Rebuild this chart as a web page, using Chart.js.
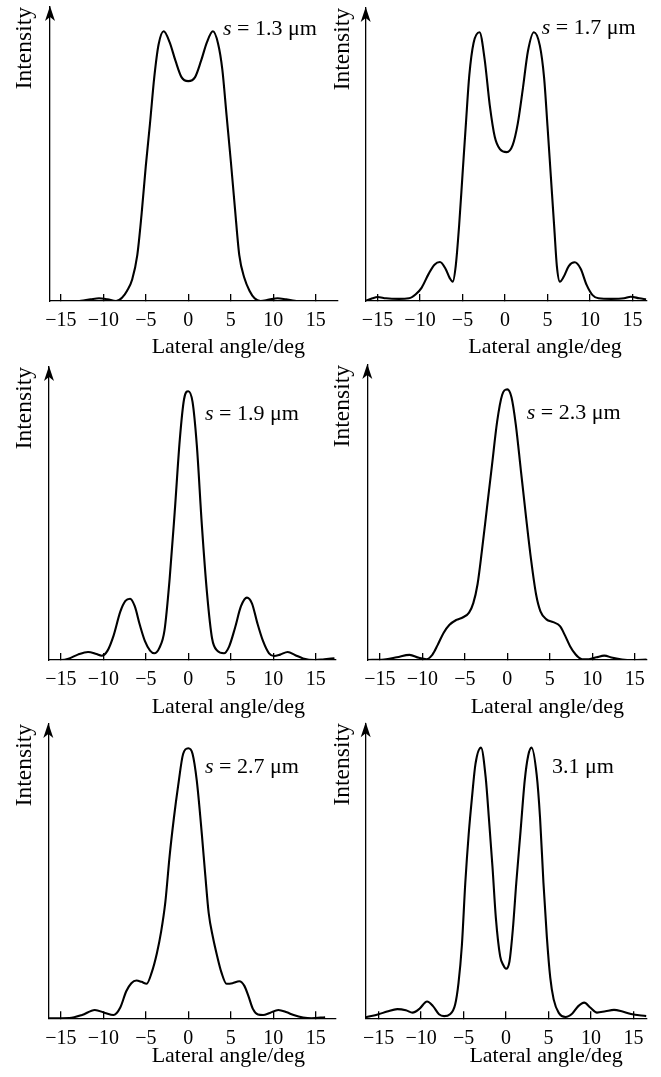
<!DOCTYPE html>
<html><head><meta charset="utf-8">
<script src="https://cdn.jsdelivr.net/npm/chart.js"></script>
<style>
html,body{margin:0;padding:0;background:#fff;}
body{width:661px;height:1077px;position:relative;overflow:hidden;}
canvas{position:absolute;}
</style></head><body>
<script>
// ---------- data ----------
const xTickValues = [-15, -10, -5, 0, 5, 10, 15];
const xAxisTitle = 'Lateral angle/deg';
const yAxisTitle = 'Intensity';
const panelLabels = ['s = 1.3 μm', 's = 1.7 μm', 's = 1.9 μm', 's = 2.3 μm', 's = 2.7 μm', '3.1 μm'];

const angle13 = [-12.8,-11.5,-10.5,-9.5,-8.5,-7.8,-7.2,-6.6,-6.0,-5.5,-5.0,-4.5,-4.0,-3.5,-2.9,-2.2,-1.5,-0.8,0,0.8,1.5,2.2,2.9,3.5,4.0,4.5,5.0,5.5,6.0,6.6,7.2,7.8,8.5,9.5,10.5,11.5,12.7];
const int13   = [0,0.006,0.01,0.006,0,0.012,0.038,0.08,0.17,0.32,0.5,0.66,0.83,0.95,1.0,0.96,0.89,0.83,0.815,0.83,0.89,0.96,1.0,0.955,0.86,0.69,0.52,0.34,0.17,0.085,0.038,0.01,0,0.005,0.01,0.006,0];

const angle17 = [-16.4,-15.6,-15.0,-14.0,-12.5,-11.3,-10.5,-9.8,-9.0,-8.3,-7.65,-7.0,-6.5,-6.15,-5.8,-5.4,-5.0,-4.6,-4.2,-3.7,-3.0,-2.4,-1.8,-1.2,-0.6,0.2,0.9,1.5,2.1,2.7,3.4,4.1,4.6,5.0,5.4,5.8,6.1,6.45,6.9,7.5,8.2,8.9,9.6,10.3,11.0,12.5,14.0,14.8,15.8,16.6];
const int17   = [0,0.01,0.015,0.01,0.008,0.01,0.025,0.05,0.1,0.135,0.145,0.12,0.085,0.072,0.13,0.28,0.47,0.66,0.84,0.96,1.0,0.9,0.73,0.61,0.565,0.554,0.58,0.66,0.79,0.93,1.0,0.95,0.83,0.65,0.46,0.27,0.13,0.072,0.09,0.13,0.144,0.12,0.06,0.022,0.01,0.008,0.01,0.016,0.01,0.006];

const angle19 = [-16.4,-15.0,-14.0,-13.0,-11.8,-10.8,-10.2,-9.5,-8.8,-8.0,-7.4,-6.85,-6.3,-5.7,-5.1,-4.5,-4.0,-3.4,-2.8,-2.2,-1.6,-1.0,-0.5,0,0.5,1.0,1.6,2.2,2.8,3.4,4.2,4.8,5.5,6.2,6.9,7.5,8.1,8.8,9.5,10.1,10.8,11.7,12.6,13.5,14.9,16.0,17.2];
const int19   = [0,0,0.006,0.02,0.03,0.022,0.016,0.035,0.09,0.18,0.22,0.228,0.2,0.13,0.07,0.035,0.025,0.045,0.11,0.3,0.55,0.82,0.97,1.0,0.96,0.8,0.5,0.25,0.08,0.035,0.025,0.05,0.12,0.2,0.232,0.21,0.14,0.07,0.025,0.015,0.02,0.03,0.018,0.006,0,0.003,0.006];

const angle23 = [-16.5,-14.5,-13.0,-11.5,-10.4,-9.5,-8.8,-8.2,-7.5,-6.8,-6.0,-5.2,-4.5,-4.0,-3.5,-3.0,-2.4,-1.8,-1.2,-0.6,0,0.5,1.0,1.6,2.2,2.8,3.4,3.9,4.6,5.4,6.2,6.8,7.4,8.0,8.8,9.6,10.5,11.4,12.4,13.5,14.8,16.4];
const int23   = [0,0.002,0.01,0.019,0.008,0.003,0.02,0.055,0.1,0.13,0.148,0.158,0.175,0.21,0.28,0.4,0.56,0.72,0.88,0.98,1.0,0.97,0.87,0.7,0.53,0.37,0.24,0.18,0.15,0.14,0.125,0.09,0.05,0.022,0.003,0.003,0.01,0.016,0.008,0.002,0,0.002];

const angle27 = [-16.5,-14.0,-12.5,-11.0,-9.8,-8.8,-8.0,-7.3,-6.7,-6.1,-5.5,-4.9,-4.3,-3.7,-3.2,-2.7,-2.2,-1.7,-1.2,-0.6,0,0.5,1.0,1.6,2.0,2.4,2.9,3.4,3.9,4.5,5.2,6.0,6.6,7.1,7.6,8.2,8.8,9.6,10.6,11.6,12.4,13.5,14.5,16.1];
const int27   = [0,0.001,0.012,0.031,0.02,0.012,0.04,0.1,0.13,0.14,0.135,0.128,0.17,0.24,0.32,0.43,0.6,0.74,0.86,0.98,1.0,0.98,0.88,0.68,0.53,0.39,0.3,0.23,0.17,0.128,0.13,0.137,0.12,0.08,0.035,0.014,0.012,0.02,0.031,0.022,0.012,0.003,0,0.004];

const angle31 = [-16.5,-15.0,-14.0,-12.8,-11.8,-11.0,-10.2,-9.3,-8.6,-7.9,-7.3,-6.6,-6.0,-5.6,-5.2,-4.8,-4.4,-4.0,-3.6,-2.95,-2.4,-2.0,-1.6,-1.2,-0.7,-0.3,0,0.4,0.8,1.2,1.7,2.2,2.6,3.0,3.6,4.0,4.4,4.8,5.2,5.6,6.2,7.0,7.8,8.5,9.2,9.9,10.7,11.7,12.7,13.7,14.7,16.5];
const int31   = [0.004,0.015,0.025,0.034,0.03,0.021,0.035,0.062,0.045,0.015,0.008,0.015,0.05,0.13,0.27,0.5,0.68,0.82,0.94,1.0,0.89,0.73,0.56,0.37,0.23,0.195,0.183,0.21,0.33,0.5,0.69,0.88,0.97,1.0,0.9,0.74,0.5,0.3,0.15,0.07,0.02,0.005,0.018,0.045,0.058,0.04,0.021,0.026,0.031,0.025,0.016,0.008];

const seriesAngles = [angle13, angle17, angle19, angle23, angle27, angle31];
const seriesIntensity = [int13, int17, int19, int23, int27, int31];

// ---------- layout (pixels / styles, not data) ----------
const panels = [
  {left:0,   top:0,   w:345, h:362, yW:50,   pr:7.3,  pt:7,   xH:61,   xmin:-16.27, xmax:17.58, tdy:52, lx:4.08, ly:0.985},
  {left:318, top:0,   w:343, h:362, yW:47.7, pr:14.3, pt:8,   xH:61,   xmin:-16.39, xmax:16.67, tdy:52, lx:4.32, ly:0.994},
  {left:0,   top:358, w:345, h:362, yW:49,   pr:9,    pt:9,   xH:60,   xmin:-16.39, xmax:17.38, tdy:53, lx:1.96, ly:0.892},
  {left:318, top:358, w:343, h:362, yW:49.3, pr:14.3, pt:7,   xH:60,   xmin:-16.47, xmax:16.4,  tdy:53, lx:2.28, ly:0.892},
  {left:0,   top:717, w:345, h:360, yW:48.3, pr:9,    pt:7,   xH:58.7, xmin:-16.47, xmax:17.38, tdy:44, lx:1.96, ly:0.908},
  {left:318, top:717, w:343, h:360, yW:47.7, pr:14.3, pt:6.3, xH:58.7, xmin:-16.52, xmax:16.55, tdy:44, lx:5.41, ly:0.908}
];
const FONT = '"Liberation Serif", "Times New Roman", serif';
const YMAX = 1.09;

Chart.defaults.font.family = FONT;
Chart.defaults.color = '#000';

const decor = {
  id: 'decor',
  afterDraw(chart, args, o) {
    const {ctx, chartArea: a, scales} = chart;
    ctx.save();
    // arrow head on the intensity axis
    const ax = a.left, ay = a.top;
    ctx.fillStyle = '#000';
    ctx.beginPath();
    ctx.moveTo(ax, ay - 1);
    ctx.lineTo(ax + 5, ay + 14);
    ctx.lineTo(ax, ay + 10);
    ctx.lineTo(ax - 5, ay + 14);
    ctx.closePath();
    ctx.fill();
    // x axis title
    ctx.font = '22px ' + FONT;
    ctx.textAlign = 'center';
    ctx.textBaseline = 'alphabetic';
    ctx.fillText(o.xTitle, scales.x.getPixelForValue(0) + 40, a.bottom + o.tdy);
    // panel label
    const px = scales.x.getPixelForValue(o.lx);
    const py = scales.y.getPixelForValue(o.ly);
    ctx.textAlign = 'left';
    let t = o.label, cx = px;
    if (t.startsWith('s ')) {
      ctx.font = 'italic 22px ' + FONT;
      ctx.fillText('s', cx, py);
      cx += ctx.measureText('s').width;
      t = t.slice(1);
    }
    ctx.font = '22px ' + FONT;
    ctx.fillText(t, cx, py);
    ctx.restore();
  }
};

panels.forEach((p, i) => {
  const cv = document.createElement('canvas');
  cv.width = p.w; cv.height = p.h;
  cv.style.left = p.left + 'px'; cv.style.top = p.top + 'px';
  cv.style.width = p.w + 'px'; cv.style.height = p.h + 'px';
  document.body.appendChild(cv);
  const pts = seriesAngles[i].map((x, k) => ({x: x, y: seriesIntensity[i][k]}));
  new Chart(cv, {
    type: 'line',
    data: { datasets: [{ data: pts, borderColor: '#000', borderWidth: 2.1, pointRadius: 0, cubicInterpolationMode: 'monotone', fill: false }] },
    options: {
      responsive: false, animation: false, devicePixelRatio: 1, events: [],
      layout: { padding: { left: 0, right: p.pr, top: p.pt, bottom: 0 } },
      plugins: {
        legend: { display: false }, tooltip: { enabled: false },
        decor: { xTitle: xAxisTitle, label: panelLabels[i], tdy: p.tdy, lx: p.lx, ly: p.ly }
      },
      scales: {
        x: {
          type: 'linear', min: p.xmin, max: p.xmax,
          afterBuildTicks: s => { s.ticks = xTickValues.map(v => ({value: v})); },
          afterFit: s => { s.height = p.xH; },
          grid: { display: true, drawOnChartArea: false, drawTicks: true, tickLength: -7, color: '#000', lineWidth: 1.3 },
          border: { display: true, color: '#000', width: 1.3 },
          ticks: { autoSkip: false, maxRotation: 0, padding: 15, font: { size: 20, family: FONT }, color: '#000',
                   callback: v => String(v).replace('-', '\u2212') }
        },
        y: {
          type: 'linear', min: 0, max: YMAX,
          afterFit: s => { s.width = p.yW; },
          grid: { display: false },
          border: { display: true, color: '#000', width: 1.3 },
          ticks: { display: false },
          title: { display: true, text: yAxisTitle, align: 'end', color: '#000', font: { size: 23.5, family: FONT }, padding: { top: 11, bottom: 0 } }
        }
      }
    },
    plugins: [decor]
  });
});
</script>
</body></html>
